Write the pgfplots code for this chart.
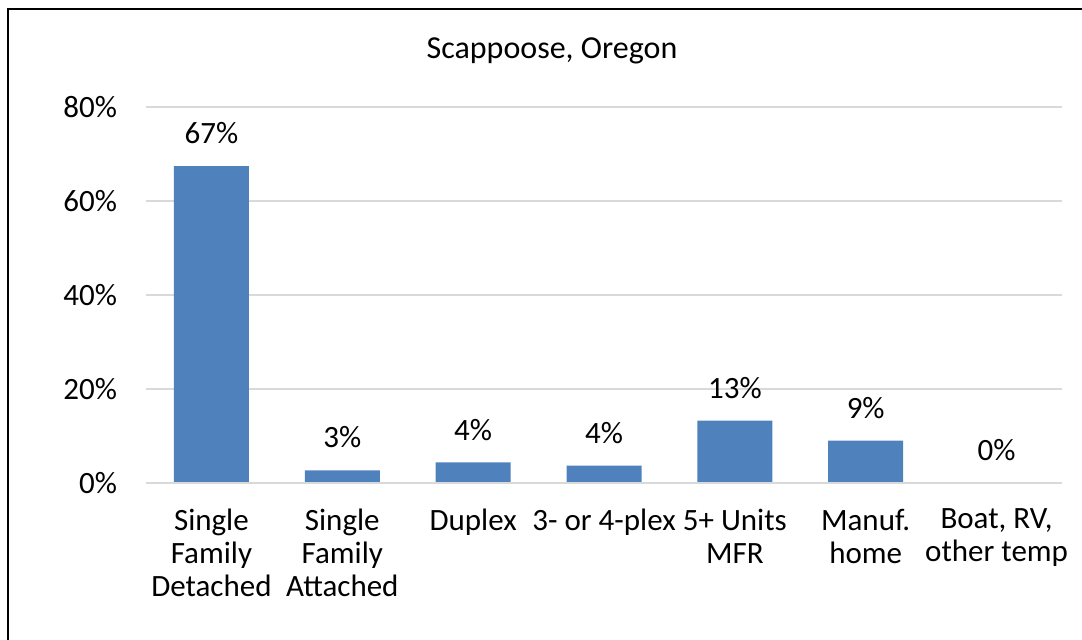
\documentclass[border=0pt]{standalone}
\usepackage{pgfplots}
\pgfplotsset{compat=1.18}
\usepackage{fontspec}
\setmainfont{Carlito}
\definecolor{barblue}{HTML}{4F81BD}
\definecolor{gridgray}{HTML}{D9D9D9}
\begin{document}
\begin{tikzpicture}[x=1pt,y=1pt]
\useasboundingbox (0,0) rectangle (541,319.5);
\draw[line width=1pt,black] (4,-2) -- (4,315) -- (545,315);
\node[font=\fontsize{16}{19}\selectfont] at (276,294) {Scappoose, Oregon};
\begin{axis}[
  at={(73pt,78pt)}, anchor=south west,
  scale only axis, width=458pt, height=188pt,
  xmin=-0.5, xmax=6.5, ymin=0, ymax=80,
  ytick={0,20,40,60,80},
  yticklabels={0\%,20\%,40\%,60\%,80\%},
  xtick={0,1,2,3,4,5,6},
  xticklabels={Single\\Family\\Detached, Single\\Family\\Attached, Duplex, 3- or 4-plex, 5+ Units\\MFR, Manuf.\\home, {Boat, RV,\\other temp}},
  xticklabel style={align=center, font=\fontsize{15.5}{16.5}\selectfont, yshift=-9.5pt},
  yticklabel style={font=\fontsize{15.5}{18}\selectfont, xshift=-11pt},
  major tick length=0pt,
  ymajorgrids, grid style={gridgray, line width=0.75pt},
  axis line style={draw=none},
  axis x line*=bottom, axis y line*=left,
  /pgf/number format/assume math mode=true,
  nodes near coords={\pgfmathprintnumber[fixed,precision=0]{\pgfplotspointmeta}\%},
  nodes near coords style={font=\fontsize{15.5}{18}\selectfont, yshift=7.5pt},
  clip=false,
]
\addplot[ybar, bar width=37.5pt, fill=barblue, draw=none] coordinates {
(0,67.4) (1,2.7) (2,4.4) (3,3.7) (4,13.3) (5,9.0) (6,0)};
\draw[gridgray, line width=0.75pt] (axis cs:-0.5,0) -- (axis cs:6.5,0);
\end{axis}
\end{tikzpicture}
\end{document}
